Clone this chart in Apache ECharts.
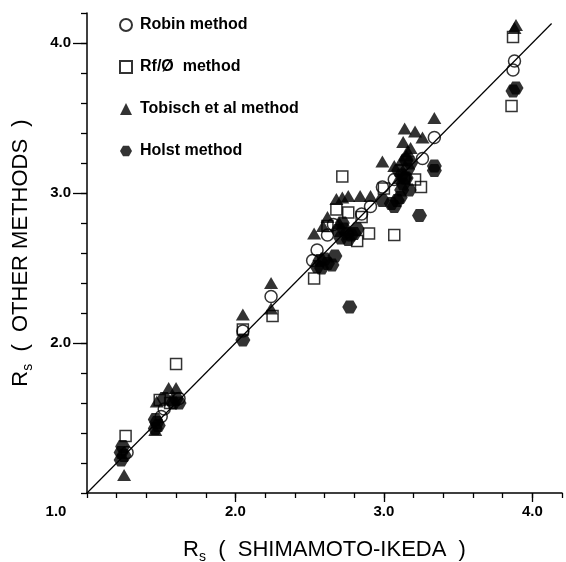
<!DOCTYPE html>
<html>
<head>
<meta charset="utf-8">
<title>Rs comparison</title>
<script src="https://cdn.jsdelivr.net/npm/echarts@6/dist/echarts.min.js"></script>
<style>
  html, body { margin: 0; padding: 0; background: #fff; }
  #chart { width: 566px; height: 562px; }
</style>
</head>
<body>
<div id="chart"></div>
<script>
// values: [Rs Shimamoto-Ikeda, Rs other method]
var robinPts = [
    [1.27, 1.27], [1.50, 1.51], [1.52, 1.56], [1.62, 1.63], [2.05, 2.08],
    [2.24, 2.31], [2.52, 2.55], [2.55, 2.62], [2.62, 2.72], [2.66, 2.79],
    [2.85, 2.86], [2.91, 2.91], [2.99, 3.04], [3.07, 3.09], [3.26, 3.23],
    [3.34, 3.37], [3.87, 3.82], [3.88, 3.88]
];
var rfPts = [
    [1.26, 1.38], [1.49, 1.62], [1.60, 1.86], [1.56, 1.60], [2.05, 2.09],
    [2.25, 2.18], [2.53, 2.43], [2.62, 2.78], [2.68, 2.89], [2.72, 3.11],
    [2.76, 2.87], [2.82, 2.68], [2.85, 2.84], [2.90, 2.73], [3.00, 3.03],
    [3.07, 2.72], [3.21, 3.09], [3.25, 3.04], [3.86, 3.58], [3.87, 4.04]
];
var tobischPts = [
    [1.25, 1.12], [1.46, 1.42], [1.47, 1.61], [1.55, 1.70], [1.60, 1.70],
    [1.58, 1.62], [2.05, 2.19], [2.24, 2.40], [2.24, 2.23], [2.53, 2.73],
    [2.59, 2.78], [2.62, 2.84], [2.68, 2.96], [2.70, 2.80], [2.72, 2.97],
    [2.76, 2.98], [2.84, 2.98], [2.91, 2.98], [2.99, 3.21], [3.07, 3.18],
    [3.10, 3.10], [3.12, 3.22], [3.13, 3.34], [3.14, 3.43], [3.15, 3.25],
    [3.16, 3.28], [3.18, 3.30], [3.21, 3.41], [3.26, 3.37], [3.34, 3.50],
    [3.88, 4.10], [3.89, 4.12]
];
var holstPts = [
    [1.23, 1.22], [1.23, 1.27], [1.24, 1.31], [1.25, 1.25], [1.46, 1.43],
    [1.47, 1.47], [1.46, 1.49], [1.48, 1.45], [1.52, 1.63], [1.58, 1.60],
    [1.62, 1.60], [1.60, 1.63], [2.05, 2.02], [2.55, 2.51], [2.57, 2.55],
    [2.58, 2.50], [2.60, 2.56], [2.62, 2.53], [2.65, 2.52], [2.67, 2.58],
    [2.69, 2.75], [2.71, 2.70], [2.72, 2.80], [2.73, 2.76], [2.75, 2.73],
    [2.76, 2.69], [2.78, 2.72], [2.80, 2.73], [2.82, 2.76], [2.77, 2.24],
    [2.99, 2.95], [3.05, 2.93], [3.07, 2.91], [3.09, 2.95], [3.11, 2.97],
    [3.12, 3.02], [3.13, 3.06], [3.17, 3.02], [3.14, 3.10], [3.12, 3.12],
    [3.10, 3.15], [3.15, 3.10], [3.16, 3.16], [3.15, 3.22], [3.18, 3.20],
    [3.24, 2.85], [3.34, 3.15], [3.34, 3.18], [3.87, 3.68], [3.89, 3.70]
];
var fitLine = [[1.0, 1.0], [4.13, 4.13]];

var axisMin = 1.0;
var axisMax = 4.2;
var minorStep = 0.2;
var majorTicks = [2, 3, 4];
var xLabelValues = [1, 2, 3, 4];
var yLabelValues = [2, 3, 4];

var seriesNames = ['Robin method', 'Rf/Ø  method', 'Tobisch et al method', 'Holst method'];
var hexagon = 'path://M3,0 L9,0 L12,5.2 L9,10.4 L3,10.4 L0,5.2 Z';

var font = 'Liberation Sans, Arial, Helvetica, sans-serif';

var chart = echarts.init(document.getElementById('chart'), null, {renderer: 'canvas'});

function fmt(v) {
    return v.toFixed(1);
}

var titleRich = {
    r: {fontSize: 22, fontFamily: font, color: '#000', lineHeight: 28},
    s: {fontSize: 14, fontFamily: font, color: '#000', lineHeight: 14, verticalAlign: 'bottom'},
    t: {fontSize: 22, fontFamily: font, color: '#000', lineHeight: 28}
};

var option = {
    animation: false,
    backgroundColor: '#fff',
    grid: {
        left: 87,
        right: 4,
        top: 13,
        bottom: 69,
        containLabel: false,
        outerBoundsMode: 'none'
    },
    legend: {
        data: seriesNames,
        orient: 'vertical',
        left: 114,
        top: 12,
        itemWidth: 12,
        itemHeight: 12,
        itemGap: 26,
        selectedMode: false,
        textStyle: {
            fontFamily: font,
            fontSize: 16,
            fontWeight: 'bold',
            color: '#000',
            lineHeight: 16,
            padding: [0, 0, 0, 3]
        }
    },
    xAxis: [
        {
            type: 'value',
            min: axisMin,
            max: axisMax,
            interval: minorStep,
            position: 'bottom',
            splitLine: {show: false},
            axisLine: {show: true, lineStyle: {color: '#000', width: 1.5}},
            axisTick: {show: true, length: 5, lineStyle: {color: '#000', width: 1.3}},
            axisLabel: {show: false},
            name: '{r|R}{s|s}{t|  (  SHIMAMOTO-IKEDA  )}',
            nameLocation: 'middle',
            nameGap: 43,
            nameTextStyle: {rich: titleRich}
        },
        {
            type: 'value',
            min: axisMin,
            max: axisMax,
            position: 'bottom',
            splitLine: {show: false},
            axisLine: {show: false},
            axisTick: {show: true, length: 9, customValues: majorTicks, lineStyle: {color: '#000', width: 1.3}},
            axisLabel: {
                show: true,
                customValues: xLabelValues,
                margin: 11,
                color: '#000',
                fontFamily: font,
                fontSize: 15,
                fontWeight: 'bold',
                formatter: function (v) {
                    return v === 1 ? '{c|' + fmt(v) + '}' : fmt(v);
                },
                rich: {
                    c: {fontFamily: font, fontSize: 15, fontWeight: 'bold', color: '#000', padding: [0, 62, 0, 0]}
                }
            }
        }
    ],
    yAxis: [
        {
            type: 'value',
            min: axisMin,
            max: axisMax,
            interval: minorStep,
            position: 'left',
            splitLine: {show: false},
            axisLine: {show: true, lineStyle: {color: '#000', width: 1.5}},
            axisTick: {show: true, length: 6, lineStyle: {color: '#000', width: 1.3}},
            axisLabel: {show: false},
            name: '{r|R}{s|s}{t|  (  OTHER METHODS  )}',
            nameLocation: 'middle',
            nameRotate: 90,
            nameGap: 52,
            nameTextStyle: {rich: titleRich}
        },
        {
            type: 'value',
            min: axisMin,
            max: axisMax,
            position: 'left',
            splitLine: {show: false},
            axisLine: {show: false},
            axisTick: {show: true, length: 14, customValues: majorTicks, lineStyle: {color: '#000', width: 1.3}},
            axisLabel: {
                show: true,
                customValues: yLabelValues,
                margin: 16,
                color: '#000',
                fontFamily: font,
                fontSize: 15,
                fontWeight: 'bold',
                formatter: fmt
            }
        }
    ],
    series: [
        {
            type: 'line',
            data: fitLine,
            symbol: 'none',
            silent: true,
            z: 1,
            lineStyle: {color: '#000', width: 1.2}
        },
        {
            name: seriesNames[0],
            type: 'scatter',
            data: robinPts,
            symbol: 'circle',
            symbolSize: 12,
            z: 3,
            itemStyle: {color: 'rgba(0,0,0,0)', borderColor: '#000', borderWidth: 1.5}
        },
        {
            name: seriesNames[1],
            type: 'scatter',
            data: rfPts,
            symbol: 'rect',
            symbolSize: 11,
            z: 3,
            itemStyle: {color: 'rgba(0,0,0,0)', borderColor: '#000', borderWidth: 1.5}
        },
        {
            name: seriesNames[2],
            type: 'scatter',
            data: tobischPts,
            symbol: 'triangle',
            symbolSize: [14, 12],
            z: 4,
            itemStyle: {color: '#000'}
        },
        {
            name: seriesNames[3],
            type: 'scatter',
            data: holstPts,
            symbol: hexagon,
            symbolSize: [15, 13],
            z: 4,
            itemStyle: {color: '#000'}
        }
    ]
};

chart.setOption(option);
</script>
</body>
</html>
